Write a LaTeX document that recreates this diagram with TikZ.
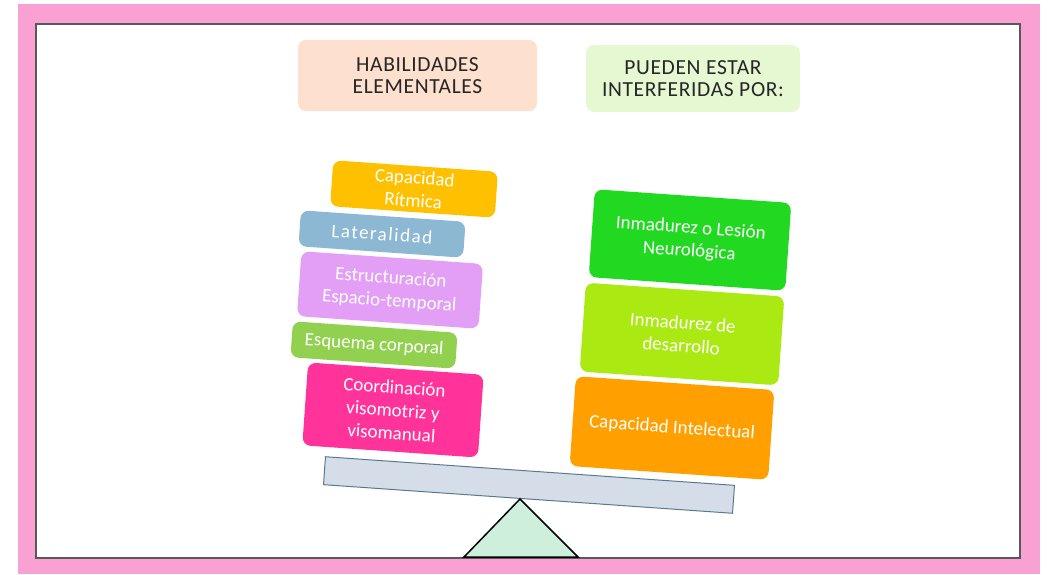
\documentclass[tikz,border=0pt]{standalone}
\usepackage{fontspec}
\setmainfont{Carlito}
\definecolor{pinkframe}{HTML}{F9A1D2}
\definecolor{peach}{HTML}{FEE0CF}
\definecolor{palegreen}{HTML}{E5F8D1}
\definecolor{cYellow}{HTML}{FFC000}
\definecolor{cBlue}{HTML}{8DB8D3}
\definecolor{cViolet}{HTML}{E39EF6}
\definecolor{cGreen}{HTML}{92D050}
\definecolor{cMagenta}{HTML}{FF3399}
\definecolor{cBright}{HTML}{22D922}
\definecolor{cLime}{HTML}{AAE911}
\definecolor{cOrange}{HTML}{FFA000}
\definecolor{beamfill}{HTML}{D5DEE8}
\definecolor{beamdraw}{HTML}{5A7A8C}
\definecolor{triFill}{HTML}{CDEFDC}
\tikzset{
  blockL/.style={rounded corners=8pt, inner sep=0pt, align=center, text=white,
    font=\fontsize{19}{23}\selectfont, rotate=-4},
  title/.style={rounded corners=8pt, inner sep=0pt, align=center, text=black!85,
    font=\fontsize{21.5}{22}\selectfont\addfontfeatures{LetterSpace=3}},
}
\begin{document}
\begin{tikzpicture}[x=1pt,y=-1pt]
\useasboundingbox (0,0) rectangle (1049,574);
\fill[pinkframe] (18,4) rectangle (1040,574);
\draw[fill=white, draw=black!65, line width=1.6pt] (36,24) rectangle (1020,558);
% titles
\node[title, fill=peach, minimum width=239pt, minimum height=71pt] (t1) at (417.5,75.5) {HABILIDADES\\ELEMENTALES};
\node[title, fill=palegreen, minimum width=214pt, minimum height=67pt] (t2) at (693,78.5) {PUEDEN ESTAR\\INTERFERIDAS POR:};
% left stack
\node[blockL, fill=cYellow, minimum width=165pt, minimum height=46pt] (a1) at (414,189) {Capacidad\\Rítmica};
\node[blockL, fill=cBlue, minimum width=165pt, minimum height=36pt] (a2) at (382,234) {\addfontfeatures{LetterSpace=8}Lateralidad};
\node[blockL, fill=cViolet, minimum width=182pt, minimum height=65pt] (a3) at (390,290) {Estructuración\\Espacio-temporal};
\node[blockL, fill=cGreen, minimum width=165pt, minimum height=36pt] (a4) at (374,345) {Esquema corporal};
\node[blockL, fill=cMagenta, minimum width=176pt, minimum height=83pt] (a5) at (393,410) {Coordinación\\visomotriz y\\visomanual};
% right stack
\node[blockL, fill=cBright, minimum width=197pt, minimum height=88pt] (b1) at (690,240) {Inmadurez o Lesión\\Neurológica};
\node[blockL, fill=cLime, minimum width=199pt, minimum height=89pt] (b2) at (682,334) {Inmadurez de\\desarrollo};
\node[blockL, fill=cOrange, minimum width=199pt, minimum height=90pt] (b3) at (672,428) {Capacidad Intelectual};
% beam
\node[draw=beamdraw, fill=beamfill, line width=1pt, minimum width=410pt, minimum height=28pt, inner sep=0pt, rotate=-4] (beam) at (529,485) {};
% fulcrum
\coordinate (apex) at (520,499);
\coordinate (bl) at (464,557);
\coordinate (br) at (578,557);
\draw[fill=triFill, line width=1.5pt, line join=miter] (apex) -- (br) -- (bl) -- cycle;
\end{tikzpicture}
\end{document}
